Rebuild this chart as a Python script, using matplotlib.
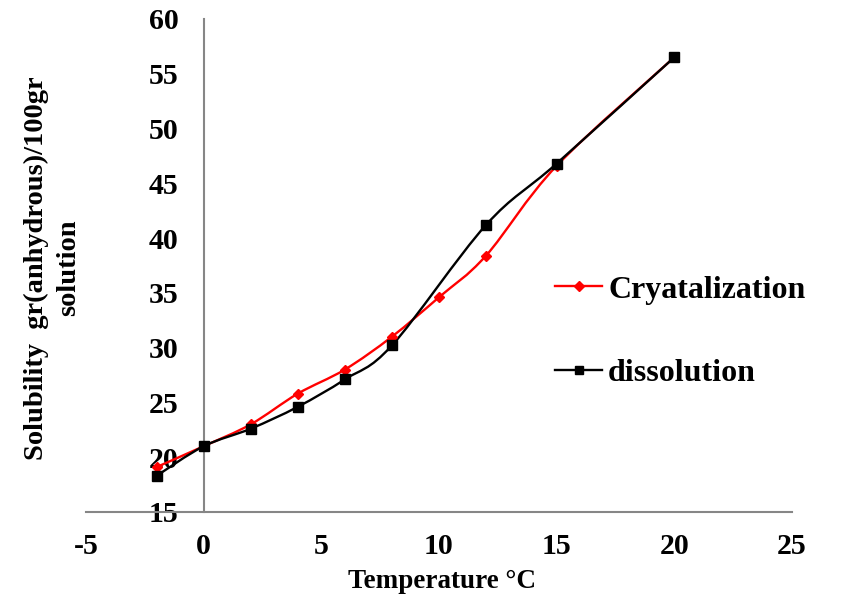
import matplotlib.pyplot as plt
from matplotlib.path import Path
from matplotlib.patches import PathPatch
from matplotlib.lines import Line2D

plt.rcParams['font.family'] = 'Liberation Serif'
plt.rcParams['font.weight'] = 'bold'
plt.rcParams['axes.labelweight'] = 'bold'
plt.rcParams['axes.unicode_minus'] = False

temp_cryst = [-2, 0, 2, 4, 6, 8, 10, 12, 15, 20]
sol_cryst = [19.1, 21.0, 23.0, 25.8, 28.0, 31.0, 34.6, 38.4, 46.6, 56.5]

temp_diss = [-2, 0, 2, 4, 6, 8, 12, 15, 20]
sol_diss = [18.3, 21.0, 22.6, 24.6, 27.1, 30.2, 41.2, 46.8, 56.5]

x_ticks = [-5, 0, 5, 10, 15, 20, 25]
y_ticks = [15, 20, 25, 30, 35, 40, 45, 50, 55, 60]


def smooth_path(xs, ys):
    # excel-like smoothed line: cubic bezier through every point
    pts = list(zip(xs, ys))
    n = len(pts)
    verts = [pts[0]]
    codes = [Path.MOVETO]
    for i in range(n - 1):
        p0 = pts[i - 1] if i > 0 else pts[i]
        p1 = pts[i]
        p2 = pts[i + 1]
        p3 = pts[i + 2] if i + 2 < n else pts[i + 1]
        c1 = (p1[0] + (p2[0] - p0[0]) / 6, p1[1] + (p2[1] - p0[1]) / 6)
        c2 = (p2[0] - (p3[0] - p1[0]) / 6, p2[1] - (p3[1] - p1[1]) / 6)
        verts += [c1, c2, p2]
        codes += [Path.CURVE4] * 3
    return Path(verts, codes)


fig = plt.figure(figsize=(8.48, 6), dpi=100)
ax = fig.add_axes([0.1014, 0.1467, 0.8325, 0.8217])

ax.add_patch(PathPatch(smooth_path(temp_cryst, sol_cryst), fill=False,
                       edgecolor='#ff0000', lw=1.7, zorder=3))
ax.plot(temp_cryst, sol_cryst, ls='none', marker='D', ms=5.5,
        color='#ff0000', zorder=4)

ax.add_patch(PathPatch(smooth_path(temp_diss, sol_diss), fill=False,
                       edgecolor='black', lw=1.7, zorder=3))
ax.plot(temp_diss, sol_diss, ls='none', marker='s', ms=7.5,
        color='black', zorder=4)

ax.set_xlim(-5, 25)
ax.set_ylim(15, 60)
ax.set_xticks(x_ticks)
ax.set_yticks(y_ticks)
ax.tick_params(length=0, labelsize=21.5)
ax.tick_params(axis='y', pad=18)
ax.tick_params(axis='x', pad=15)

for s in ['top', 'right']:
    ax.spines[s].set_visible(False)
ax.spines['left'].set_position(('data', 0))
for s in ['left', 'bottom']:
    ax.spines[s].set_color('#868686')
    ax.spines[s].set_linewidth(1.5)

ax.set_xlabel('Temperature °C', fontsize=19.5)
ax.xaxis.set_label_coords(0.505, -0.115)
fig.text(0.062, 0.553, 'Solubility  gr(anhydrous)/100gr\nsolution',
         rotation=90, fontsize=20.5, ha='center', va='center',
         multialignment='center', linespacing=1.35)

handles = [
    Line2D([], [], color='#ff0000', lw=1.7, marker='D', ms=5.5),
    Line2D([], [], color='black', lw=1.7, marker='s', ms=6),
]
fig.legend(handles, ['Cryatalization', 'dissolution'], loc='center left',
           bbox_to_anchor=(0.621, 0.447), frameon=False, fontsize=23,
           handlelength=1.45, handletextpad=0.2, labelspacing=1.7)

fig.savefig('out.png', dpi=100)
